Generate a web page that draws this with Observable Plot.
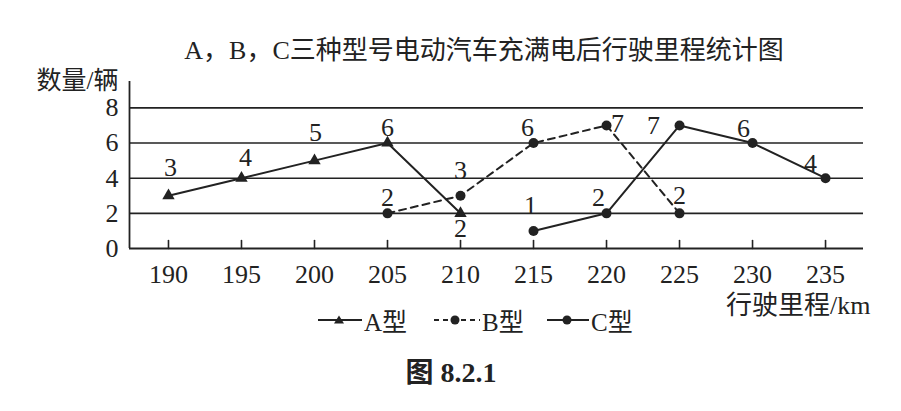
<!DOCTYPE html>
<html><head><meta charset="utf-8">
<script src="https://cdn.jsdelivr.net/npm/d3@7"></script>
<script src="https://cdn.jsdelivr.net/npm/@observablehq/plot@0.6"></script>
<style>
body{margin:0;background:#fff;}
#wrap{position:relative;width:901px;height:411px;font-family:"Liberation Serif","Noto Sans CJK SC",serif;color:#222;overflow:hidden}
.abs{position:absolute;white-space:nowrap;line-height:1}
.item{position:absolute;display:flex;align-items:center;transform:translateY(-50%);font-size:25px;white-space:nowrap}
</style></head><body><div id="wrap"></div>
<script>
// ---- data ----
const title = "A，B，C三种型号电动汽车充满电后行驶里程统计图";
const yLabel = "数量/辆";
const xLabel = "行驶里程/km";
const caption = "图 8.2.1";
const xTicks = [190, 195, 200, 205, 210, 215, 220, 225, 230, 235];
const yTicks = [0, 2, 4, 6, 8];
const gridValues = [2, 4, 6, 8];
const seriesNames = ["A型", "B型", "C型"];
const aMileage = [190, 195, 200, 205, 210];
const aCount = [3, 4, 5, 6, 2];
const bMileage = [205, 210, 215, 220, 225];
const bCount = [2, 3, 6, 7, 2];
const cMileage = [215, 220, 225, 230, 235];
const cCount = [1, 2, 7, 6, 4];

// ---- styles / layout ----
const xDomain = [187.33, 237.6];
const yDomain = [0, 9.5];
const ink = "#222";
const labelOffsetsA = [[2,-28],[4,-21],[1,-28],[0,-15],[0,15]];
const labelOffsetsB = [[0,-16],[0,-25],[-6,-15],[11,-2],[0,-18]];
const labelOffsetsC = [[-3,-25],[-8,-16],[-26,0],[-9,-14],[-15,-15]];

const toRows = (xs, ys) => xs.map((x, i) => ({x, y: ys[i]}));
const A = toRows(aMileage, aCount), B = toRows(bMileage, bCount), C = toRows(cMileage, cCount);

const labelMarks = (rows, offs) => rows.map((r, i) =>
  Plot.text([r], {x: "x", y: "y", text: d => String(d.y), dx: offs[i][0], dy: offs[i][1],
    lineAnchor: "middle", fill: ink}));

const tickShape = {draw(context, l) { context.moveTo(0, 0); context.lineTo(0, -l); }};

const chart = Plot.plot({
  width: 901, height: 260,
  marginLeft: 129, marginRight: 38, marginTop: 21, marginBottom: 72,
  x: {domain: xDomain, axis: null},
  y: {domain: yDomain, axis: null},
  style: {fontFamily: '"Liberation Serif","Noto Sans CJK SC",serif', fontSize: "26px", color: ink, background: "transparent", overflow: "visible"},
  marks: [
    Plot.ruleY(gridValues, {stroke: ink, strokeWidth: 1.6}),
    Plot.ruleY([yDomain[0]], {stroke: ink, strokeWidth: 1.8}),
    Plot.ruleX([xDomain[0]], {stroke: ink, strokeWidth: 1.8}),
    Plot.vectorX(xTicks, {x: d => d, frameAnchor: "bottom", anchor: "start", rotate: 0, length: 8, shape: tickShape, stroke: ink, strokeWidth: 1.6}),
    Plot.text(xTicks, {x: d => d, frameAnchor: "bottom", dy: 26, lineAnchor: "middle", fill: ink}),
    Plot.text(yTicks, {y: d => d, frameAnchor: "left", dx: -11, textAnchor: "end", lineAnchor: "middle", fill: ink}),
    Plot.text([yLabel], {frameAnchor: "top-left", dx: -11, dy: -1, textAnchor: "end", lineAnchor: "middle", fill: ink, fontSize: 25}),
    Plot.text([xLabel], {frameAnchor: "bottom-right", dx: 7, dy: 57, textAnchor: "end", lineAnchor: "middle", fill: ink}),
    Plot.line(A, {x: "x", y: "y", stroke: ink, strokeWidth: 2}),
    Plot.line(B, {x: "x", y: "y", stroke: ink, strokeWidth: 2, strokeDasharray: "7,5"}),
    Plot.line(C, {x: "x", y: "y", stroke: ink, strokeWidth: 2}),
    Plot.dot(A, {x: "x", y: "y", symbol: "triangle", r: 4.6, fill: ink}),
    Plot.dot(B, {x: "x", y: "y", r: 5, fill: ink}),
    Plot.dot(C, {x: "x", y: "y", r: 5, fill: ink}),
    ...labelMarks(A, labelOffsetsA),
    ...labelMarks(B, labelOffsetsB),
    ...labelMarks(C, labelOffsetsC)
  ]
});

const wrap = document.getElementById("wrap");
const t = document.createElement("div");
t.className = "abs";
t.style.cssText = "left:484px;top:51px;transform:translate(-50%,-50%);font-size:26px;";
t.textContent = title;
wrap.appendChild(t);

const holder = document.createElement("div");
holder.style.cssText = "position:absolute;left:0;top:60px;";
holder.appendChild(chart);
wrap.appendChild(holder);

// legend
const swatches = [
  `<svg width="44" height="14"><line x1="0" y1="7" x2="44" y2="7" stroke="${ink}" stroke-width="2"/><path d="M21,2.5 L26,10.5 L16,10.5 Z" fill="${ink}"/></svg>`,
  `<svg width="46" height="14"><line x1="0" y1="7" x2="46" y2="7" stroke="${ink}" stroke-width="2" stroke-dasharray="5,4"/><circle cx="21" cy="7" r="4.5" fill="${ink}"/></svg>`,
  `<svg width="42" height="14"><line x1="0" y1="7" x2="42" y2="7" stroke="${ink}" stroke-width="2"/><circle cx="20" cy="7" r="4.5" fill="${ink}"/></svg>`
];
const legendX = [318, 434, 547];
seriesNames.forEach((name, i) => {
  const it = document.createElement("div");
  it.className = "item";
  it.style.left = legendX[i] + "px";
  it.style.top = "320px";
  it.innerHTML = swatches[i] + `<span style="margin-left:2px">${name}</span>`;
  wrap.appendChild(it);
});

const cap = document.createElement("div");
cap.className = "abs";
cap.style.cssText = "left:451px;top:373px;transform:translate(-50%,-50%);font-size:28px;font-weight:bold;";
cap.textContent = caption;
wrap.appendChild(cap);
</script></body></html>
